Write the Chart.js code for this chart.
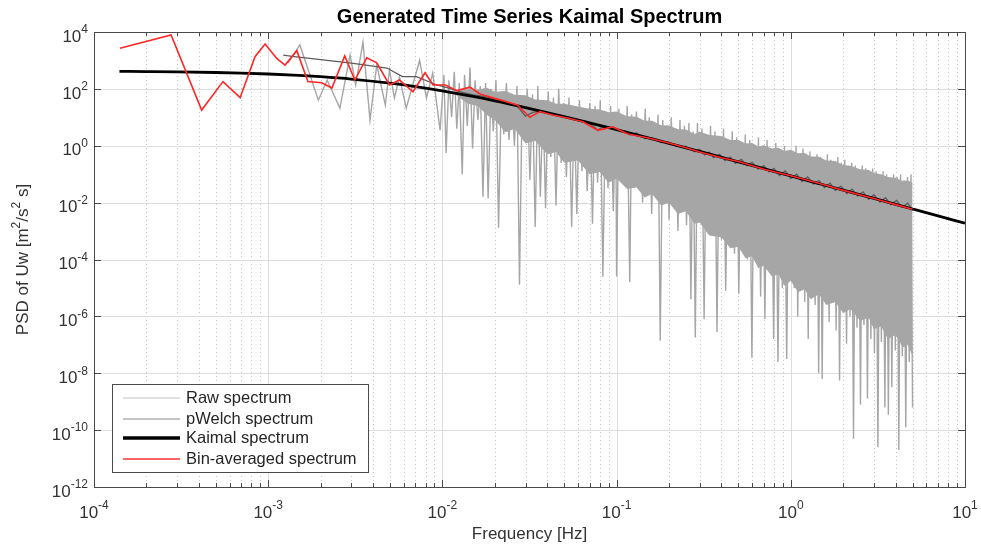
<!DOCTYPE html>
<html>
<head>
<meta charset="utf-8">
<script src="https://cdn.jsdelivr.net/npm/chart.js@4.4.1/dist/chart.umd.min.js"></script>
<style>
  html, body { margin: 0; padding: 0; background: #fff; }
</style>
</head>
<body>
<canvas id="myChart" width="981" height="550"></canvas>
<script>
// tick labels (decades)
var xTicks = [1e-4, 1e-3, 1e-2, 1e-1, 1, 10];
var xTickExp = ["-4", "-3", "-2", "-1", "0", "1"];
var yTicks = [1e-12, 1e-10, 1e-8, 1e-6, 1e-4, 1e-2, 1, 1e2, 1e4];
var yTickExp = ["-12", "-10", "-8", "-6", "-4", "-2", "0", "2", "4"];

// raw periodogram (peaks and dips)
var rawFreq = [
  1.30e-3, 1.52e-3, 1.94e-3, 2.18e-3, 2.58e-3, 2.95e-3, 3.18e-3, 3.5e-3, 3.84e-3, 4.2e-3,
  4.7e-3, 4.97e-3, 5.3e-3, 5.67e-3, 6.2e-3, 7.4e-3, 8.1e-3, 8.8e-3, 9.7e-3, 1.02e-2,
  0.0105, 0.0109, 0.0113, 0.0117, 0.0121, 0.0125, 0.013, 0.0134, 0.0139, 0.0144,
  0.0149, 0.0154, 0.016, 0.0165, 0.0171, 0.0177, 0.0183, 0.019, 0.0196, 0.0203,
  0.021, 0.0218, 0.0225, 0.0233, 0.0241, 0.025, 0.0259, 0.0268, 0.0277, 0.0287,
  0.0297, 0.0307, 0.0318, 0.0329, 0.0341, 0.0353, 0.0365, 0.0378, 0.0391, 0.0405,
  0.0419, 0.0434, 0.0449, 0.0465, 0.0481, 0.0498, 0.0515, 0.0533, 0.0552, 0.0571,
  0.0591, 0.0612, 0.0633, 0.0655, 0.0678, 0.0702, 0.0727, 0.0752, 0.0778, 0.0806,
  0.0834, 0.0863, 0.0893, 0.0924, 0.0957, 0.099,
  0.1, 0.103, 0.106, 0.109, 0.112, 0.115, 0.119, 0.122, 0.126, 0.13,
  0.133, 0.137, 0.141, 0.146, 0.15, 0.154, 0.159, 0.164, 0.168, 0.173,
  0.178, 0.184, 0.189, 0.195, 0.2, 0.206, 0.212, 0.218, 0.225, 0.231,
  0.238, 0.245, 0.252, 0.26, 0.267, 0.275, 0.283, 0.291, 0.3, 0.309,
  0.318, 0.327, 0.337, 0.346, 0.356, 0.367, 0.377, 0.388, 0.4, 0.411,
  0.423, 0.436, 0.448, 0.461, 0.475, 0.489, 0.503, 0.518, 0.533, 0.548,
  0.564, 0.581, 0.598, 0.615, 0.633, 0.652, 0.671, 0.69, 0.71, 0.731,
  0.752, 0.774, 0.797, 0.82, 0.844, 0.869, 0.894, 0.92, 0.947, 0.975,
  1, 1.023, 1.047, 1.072, 1.096, 1.122, 1.148, 1.175, 1.202, 1.23,
  1.259, 1.288, 1.318, 1.349, 1.38, 1.413, 1.445, 1.479, 1.514, 1.549,
  1.585, 1.622, 1.66, 1.698, 1.738, 1.778, 1.82, 1.862, 1.905, 1.95,
  1.995, 2.042, 2.089, 2.138, 2.188, 2.239, 2.291, 2.344, 2.399, 2.455,
  2.512, 2.57, 2.63, 2.692, 2.754, 2.818, 2.884, 2.951, 3.02, 3.09,
  3.162, 3.236, 3.311, 3.388, 3.467, 3.548, 3.631, 3.715, 3.802, 3.89,
  3.981, 4.074, 4.169, 4.266, 4.365, 4.467, 4.571, 4.677, 4.786, 4.898,
  5.0
];
var rawPsd = [
  800, 3500, 40, 200, 21, 1550, 140, 4400, 8, 700,
  27, 460, 48, 260, 21, 1000, 48, 360, 3.5, 310,
  0.56, 200, 10, 400, 4, 160, 0.1, 316, 5, 560,
  0.8, 200, 8, 126, 0.016, 160, 0.014, 100, 3.2, 200,
  1.3e-3, 80, 2.5, 160, 1.6, 63, 1, 126, 1.3e-5, 50,
  2, 100, 0.063, 63, 1.4e-3, 126, 0.016, 40, 6.3e-3, 80,
  0.4, 50, 8e-3, 100, 0.25, 32, 0.08, 50, 1.4e-3, 25,
  4e-3, 40, 0.126, 20, 0.025, 32, 1.8e-3, 25, 0.05, 40,
  2.5e-5, 16, 0.032, 25, 5e-3, 12.6,
  2.5e-5, 20, 0.063, 10, 0.16, 25, 1.6e-5, 12.6, 0.032, 16,
  0.25, 8, 0.01, 20, 0.08, 10, 4e-3, 6.3, 0.04, 12.6,
  1.4e-7, 8, 0.016, 5, 2.5e-3, 10, 0.05, 4, 1e-3, 8,
  0.01, 5, 1.6e-3, 6.3, 4e-6, 3.2, 1.8e-7, 6.3, 4e-3, 4,
  8e-7, 2.5, 8e-4, 5, 2.5e-3, 3.2, 2.8e-7, 2, 5e-4, 4,
  8e-6, 1.6, 1e-3, 3.2, 1.6e-4, 2, 6.3e-6, 1.26, 4e-4, 2.5,
  1e-4, 1.6, 3.5e-8, 1, 1.6e-4, 2, 5e-6, 0.8, 8e-7, 1.6,
  1e-4, 0.63, 1.6e-7, 1.26, 2.5e-8, 0.5, 1e-5, 1, 3.2e-8, 0.63,
  3.2e-5, 0.63, 1e-5, 1, 1e-6, 0.5, 1.6e-5, 0.8, 3.2e-6, 0.4,
  1.6e-7, 0.63, 1e-5, 0.32, 2.5e-6, 0.5, 1e-8, 0.4, 6.3e-9, 0.25,
  4e-6, 0.5, 6.3e-7, 0.32, 5e-6, 0.2, 3.2e-7, 0.4, 5.6e-9, 0.25,
  1.6e-6, 0.32, 1.1e-7, 0.16, 1e-6, 0.25, 5e-11, 0.2, 4e-7, 0.126,
  8e-10, 0.2, 5e-7, 0.16, 1.26e-9, 0.1, 1.6e-7, 0.16, 5e-8, 0.126,
  2.5e-11, 0.08, 1.26e-7, 0.126, 6.3e-10, 0.1, 3.5e-10, 0.063, 3.2e-9, 0.1,
  6.3e-8, 0.08, 2e-11, 0.1, 4e-8, 0.063, 1.26e-10, 0.08, 2.5e-8, 0.1,
  6.3e-10
];

// dense core of the raw periodogram: ragged top and bottom of the solid gray
var bandFreq = [0.012, 0.014, 0.016, 0.018, 0.02, 0.023, 0.026, 0.03, 0.034, 0.04,
  0.045, 0.05, 0.06, 0.07, 0.08, 0.09, 0.1, 0.115, 0.13, 0.145,
  0.16, 0.18, 0.2, 0.225, 0.25, 0.28, 0.3, 0.34, 0.4, 0.45,
  0.5, 0.55, 0.6, 0.65, 0.7, 0.78, 0.85, 0.92, 1.0, 1.1,
  1.2, 1.3, 1.45, 1.6, 1.8, 2.0, 2.2, 2.5, 2.8, 3.0,
  3.3, 3.6, 4.0, 4.4, 4.7, 5.0];
var bandTop = [85, 100, 95, 110, 80, 85, 62, 60, 42, 40,
  30, 30, 24, 20, 19, 15, 16, 11, 10.5, 7.5,
  7.5, 5.3, 5.2, 3.8, 3.7, 2.6, 3.2, 2.4, 2.2, 1.6,
  1.6, 1.2, 1.25, 0.95, 1.05, 0.8, 0.85, 0.65, 0.72, 0.54,
  0.56, 0.42, 0.41, 0.3, 0.29, 0.21, 0.2, 0.15, 0.14, 0.11,
  0.1, 0.08, 0.075, 0.057, 0.06, 0.05];
var bandBottom = [60, 30, 25, 12, 8, 3, 4, 1.2, 1.5, 0.5,
  0.6, 0.25, 0.3, 0.1, 0.12, 0.05, 0.07, 0.03, 0.035, 0.015,
  0.02, 8e-3, 0.01, 4e-3, 5e-3, 1.8e-3, 2e-3, 7e-4, 6e-4, 2.5e-4,
  2.8e-4, 1.1e-4, 1.3e-4, 5e-5, 6e-5, 2.5e-5, 3e-5, 1.2e-5, 1.8e-5, 7e-6,
  9e-6, 4e-6, 6e-6, 2.5e-6, 3.2e-6, 1.3e-6, 1.8e-6, 7e-7, 9e-7, 3.5e-7,
  4.5e-7, 1.6e-7, 2.2e-7, 8e-8, 1e-7, 4e-8];

// pWelch estimate
var welchFreq = [
  1.22e-3, 1.37e-3, 2e-3, 3e-3, 4e-3, 4.8e-3, 5.9e-3, 7.1e-3, 9.3e-3,
  0.011, 0.013, 0.015, 0.018, 0.021, 0.024, 0.027, 0.03, 0.033, 0.037,
  0.042, 0.047, 0.053, 0.06, 0.068, 0.078, 0.085, 0.095,
  0.11, 0.12, 0.13, 0.145, 0.16, 0.18, 0.2, 0.22, 0.25, 0.28,
  0.3, 0.32, 0.34, 0.36, 0.39, 0.42, 0.45, 0.48, 0.52, 0.56,
  0.6, 0.65, 0.7, 0.75, 0.8, 0.86, 0.93,
  1.0, 1.08, 1.16, 1.25, 1.35, 1.45, 1.56, 1.68, 1.8, 1.94,
  2.1, 2.25, 2.42, 2.6, 2.8, 3.0, 3.25, 3.5, 3.75, 4.05,
  4.35, 4.7, 5.0
];
var welchPsd = [
  1550, 1400, 1070, 810, 630, 540, 270, 270, 137,
  105, 75, 62, 52, 40, 33, 24, 11, 15, 17,
  13, 12, 10, 8, 7, 3.6, 5, 4.2,
  3.2, 2.4, 2.8, 1.8, 1.9, 1.3, 1.35, 0.95, 0.95, 0.62,
  0.75, 0.48, 0.6, 0.38, 0.5, 0.3, 0.4, 0.24, 0.33, 0.2,
  0.26, 0.15, 0.2, 0.12, 0.16, 0.09, 0.13,
  0.07, 0.1, 0.055, 0.08, 0.045, 0.06, 0.034, 0.048, 0.027, 0.038,
  0.021, 0.03, 0.017, 0.024, 0.013, 0.019, 0.0105, 0.015, 0.0085, 0.012,
  0.0068, 0.0095, 0.0052
];

// Kaimal model curve
var kaimalFreq = [1.4e-4, 2e-4, 3e-4, 5e-4, 7e-4, 1e-3, 1.5e-3, 2e-3, 3e-3, 5e-3,
  7e-3, 1e-2, 1.5e-2, 2e-2, 3e-2, 5e-2, 7e-2, 0.1, 0.15, 0.2,
  0.3, 0.5, 0.7, 1, 1.5, 2, 3, 5, 7, 10];
var kaimalPsd = [414, 407, 397, 377, 359, 334, 298, 268, 221, 158,
  120, 85, 54, 38, 22, 10.6, 6.4, 3.7, 1.93, 1.22,
  0.63, 0.272, 0.156, 0.0866, 0.0442, 0.0274, 0.014, 0.00597, 0.00341, 0.00189];

// bin-averaged spectrum
var binFreq = [1.41e-4, 2.77e-4, 4.15e-4, 5.5e-4, 6.9e-4, 8.4e-4, 9.6e-4, 1.12e-3, 1.25e-3, 1.46e-3,
  1.69e-3, 2.03e-3, 2.32e-3, 2.75e-3, 3.14e-3, 3.68e-3, 4.2e-3, 4.97e-3, 5.67e-3, 6.78e-3,
  7.95e-3, 8.84e-3, 1.04e-2, 1.21e-2, 1.44e-2, 1.64e-2, 2.14e-2, 2.69e-2, 3.18e-2, 3.63e-2,
  4.3e-2, 5.2e-2, 6.4e-2, 7.8e-2, 9.5e-2, 0.116, 0.15, 0.2, 0.25, 0.3,
  0.4, 0.5, 0.7, 1, 1.5, 2, 3, 4, 5];
var binPsd = [2700, 7800, 18, 180, 49, 1350, 3800, 1170, 690, 2200,
  180, 165, 107, 1450, 205, 1240, 820, 137, 205, 79,
  370, 137, 137, 87, 115, 66, 41, 27, 10, 16,
  12, 9.5, 7, 3.5, 4.6, 2.6, 1.9, 1.25, 0.85, 0.6,
  0.38, 0.28, 0.15, 0.088, 0.045, 0.027, 0.014, 0.0085, 0.0058];

var seriesNames = ["Raw spectrum", "pWelch spectrum", "Kaimal spectrum", "Bin-averaged spectrum"];
var seriesColors = ["#a6a6a6", "#5c5c5c", "#000000", "#ff2626"];
var seriesWidths = [1.4, 1.3, 2.8, 1.6];
var legendColors = ["#c4c4c4", "#8a8a8a", "#000000", "#ff3030"];
var legendWidths = [1.2, 1.2, 3.4, 1.4];

var FONT = '"Liberation Sans", Arial, sans-serif';

function pts(fs, vs) {
  return fs.map(function (f, i) { return { x: f, y: vs[i] }; });
}

function hline(ctx, x1, y1, x2, y2) {
  ctx.beginPath();
  ctx.moveTo(x1, y1);
  ctx.lineTo(x2, y2);
  ctx.stroke();
}

// "10" with a raised exponent
function powLabel(ctx, exp, x, y, align) {
  ctx.font = '17px ' + FONT;
  var w1 = ctx.measureText('10').width;
  ctx.font = '12px ' + FONT;
  var w2 = ctx.measureText(exp).width;
  var x0 = align === 'right' ? x - w1 - w2 : x - (w1 + w2) / 2;
  ctx.textAlign = 'left';
  ctx.textBaseline = 'middle';
  ctx.font = '17px ' + FONT;
  ctx.fillText('10', x0, y + 5);
  ctx.font = '12px ' + FONT;
  ctx.fillText(exp, x0 + w1, y - 2);
}

var matlabAxes = {
  id: 'matlabAxes',
  beforeDatasetsDraw: function (chart) {
    var ctx = chart.ctx, a = chart.chartArea, xs = chart.scales.x, ys = chart.scales.y;
    ctx.save();
    ctx.lineWidth = 1;
    // minor grid, dotted
    ctx.strokeStyle = '#c4c4c4';
    ctx.setLineDash([1, 3]);
    for (var d = -4; d < 1; d++) {
      for (var m = 2; m < 10; m++) {
        var px = Math.round(xs.getPixelForValue(m * Math.pow(10, d))) + 0.5;
        hline(ctx, px, a.top, px, a.bottom);
      }
    }
    ctx.setLineDash([]);
    ctx.strokeStyle = '#dddddd';
    xTicks.forEach(function (v) {
      var px = Math.round(xs.getPixelForValue(v)) + 0.5;
      hline(ctx, px, a.top, px, a.bottom);
    });
    yTicks.forEach(function (v) {
      var py = Math.round(ys.getPixelForValue(v)) + 0.5;
      hline(ctx, a.left, py, a.right, py);
    });
    ctx.restore();
  },
  afterDatasetsDraw: function (chart) {
    var ctx = chart.ctx, a = chart.chartArea, xs = chart.scales.x, ys = chart.scales.y;
    ctx.save();
    ctx.strokeStyle = '#4a4a4a';
    ctx.lineWidth = 1;
    ctx.strokeRect(Math.round(a.left) + 0.5, Math.round(a.top) + 0.5,
      Math.round(a.right - a.left), Math.round(a.bottom - a.top));

    // x ticks, inward on bottom and top
    for (var d = -4; d < 1; d++) {
      for (var m = 2; m < 10; m++) {
        var px = Math.round(xs.getPixelForValue(m * Math.pow(10, d))) + 0.5;
        hline(ctx, px, a.bottom, px, a.bottom - 4);
        hline(ctx, px, a.top, px, a.top + 4);
      }
    }
    xTicks.forEach(function (v) {
      var px = Math.round(xs.getPixelForValue(v)) + 0.5;
      hline(ctx, px, a.bottom, px, a.bottom - 7);
      hline(ctx, px, a.top, px, a.top + 7);
    });
    yTicks.forEach(function (v) {
      var py = Math.round(ys.getPixelForValue(v)) + 0.5;
      hline(ctx, a.left, py, a.left + 7, py);
      hline(ctx, a.right, py, a.right - 7, py);
    });

    // tick labels
    ctx.fillStyle = '#333333';
    xTicks.forEach(function (v, i) {
      powLabel(ctx, xTickExp[i], xs.getPixelForValue(v), a.bottom + 21, 'center');
    });
    yTicks.forEach(function (v, i) {
      powLabel(ctx, yTickExp[i], a.left - 6, ys.getPixelForValue(v), 'right');
    });

    // axis titles
    ctx.textAlign = 'center';
    ctx.textBaseline = 'middle';
    ctx.font = '17px ' + FONT;
    ctx.fillText('Frequency [Hz]', (a.left + a.right) / 2, 534);

    ctx.save();
    ctx.translate(23, (a.top + a.bottom) / 2);
    ctx.rotate(-Math.PI / 2);
    var parts = [['PSD of Uw [m', 0], ['2', 1], ['/s', 0], ['2', 1], [' s]', 0]];
    var total = 0;
    parts.forEach(function (p) {
      ctx.font = (p[1] ? '12px ' : '17px ') + FONT;
      total += ctx.measureText(p[0]).width;
    });
    var cx = -total / 2;
    ctx.textAlign = 'left';
    parts.forEach(function (p) {
      ctx.font = (p[1] ? '12px ' : '17px ') + FONT;
      ctx.fillText(p[0], cx, p[1] ? -6 : 0);
      cx += ctx.measureText(p[0]).width;
    });
    ctx.restore();

    // title
    ctx.fillStyle = '#000000';
    ctx.font = 'bold 20px ' + FONT;
    ctx.textAlign = 'center';
    ctx.fillText('Generated Time Series Kaimal Spectrum', (a.left + a.right) / 2, 17);

    // legend box
    var lx = 112, ly = 384, lw = 256, lh = 88;
    ctx.fillStyle = '#ffffff';
    ctx.fillRect(lx, ly, lw, lh);
    ctx.strokeStyle = '#4a4a4a';
    ctx.lineWidth = 1;
    ctx.strokeRect(lx + 0.5, ly + 0.5, lw, lh);
    var rows = [398, 419, 438, 459];
    ctx.font = '16.5px ' + FONT;
    ctx.textAlign = 'left';
    seriesNames.forEach(function (name, i) {
      ctx.strokeStyle = legendColors[i];
      ctx.lineWidth = legendWidths[i];
      hline(ctx, 123, rows[i], 180, rows[i]);
      ctx.fillStyle = '#262626';
      ctx.fillText(name, 186, rows[i]);
    });
    ctx.restore();
  }
};

function lineSet(i, data, order) {
  return {
    label: seriesNames[i],
    data: data,
    borderColor: seriesColors[i],
    borderWidth: seriesWidths[i],
    pointRadius: 0,
    fill: false,
    tension: 0,
    order: order
  };
}

var kaimalSet = lineSet(2, pts(kaimalFreq, kaimalPsd), 2);
kaimalSet.cubicInterpolationMode = 'monotone';

new Chart("myChart", {
  type: "line",
  data: {
    datasets: [
      {
        label: "Raw spectrum core",
        data: pts(bandFreq, bandTop),
        borderWidth: 0,
        borderColor: "rgba(0,0,0,0)",
        backgroundColor: "#a6a6a6",
        pointRadius: 0,
        fill: "+1",
        order: 6
      },
      {
        label: "Raw spectrum core bottom",
        data: pts(bandFreq, bandBottom),
        borderWidth: 0,
        borderColor: "rgba(0,0,0,0)",
        pointRadius: 0,
        fill: false,
        order: 5
      },
      lineSet(0, pts(rawFreq, rawPsd), 4),
      lineSet(1, pts(welchFreq, welchPsd), 3),
      kaimalSet,
      lineSet(3, pts(binFreq, binPsd), 1)
    ]
  },
  options: {
    responsive: false,
    animation: false,
    layout: { padding: { left: 94, right: 16, top: 32, bottom: 63 } },
    plugins: {
      legend: { display: false },
      title: { display: false },
      tooltip: { enabled: false }
    },
    scales: {
      x: { type: "logarithmic", min: 1e-4, max: 10, display: false },
      y: { type: "logarithmic", min: 1e-12, max: 1e4, display: false }
    }
  },
  plugins: [matlabAxes]
});
</script>
</body>
</html>
